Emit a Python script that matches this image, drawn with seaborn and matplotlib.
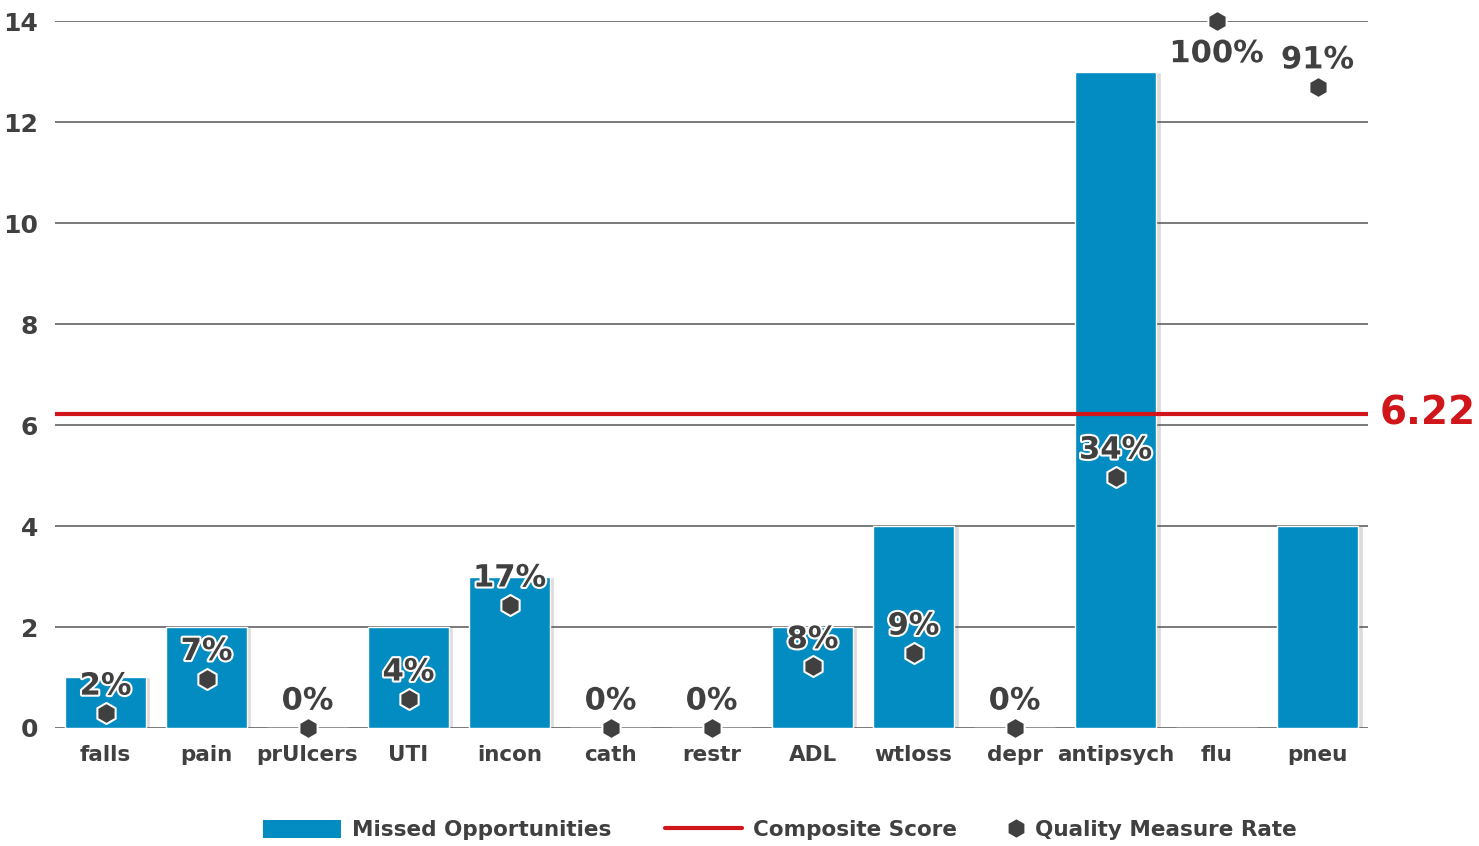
import numpy as np
import pandas as pd
import matplotlib
matplotlib.use('Agg')
import matplotlib.pyplot as plt
import matplotlib.patheffects as pe
from matplotlib.lines import Line2D
from matplotlib.patches import Patch
import seaborn as sns

# ── Data ──────────────────────────────────────────────────────────────────────
categories = ['falls', 'pain', 'prUlcers', 'UTI', 'incon', 'cath', 'restr',
              'ADL', 'wtloss', 'depr', 'antipsych', 'flu', 'pneu']
missed     = [1, 2, 0, 2, 3, 0, 0, 2, 4, 0, 13, 0, 4]
rate_pct   = [2.1, 7.0, 0, 4.1, 17.4, 0, 0, 8.7, 10.6, 0, 35.5, 100, 90.7]
rate_text  = ['2%', '7%', '0%', '4%', '17%', '0%', '0%', '8%', '9%', '0%',
              '34%', '100%', '91%']
composite  = 6.22

# ── Style ─────────────────────────────────────────────────────────────────────
BLUE  = '#038cc1'
RED   = '#d0161b'
DARK  = '#404040'
GRID  = '#555555'

sns.set_style('white')
plt.rcParams['font.family'] = ['Liberation Sans Narrow', 'DejaVu Sans Condensed', 'DejaVu Sans']
plt.rcParams['font.weight'] = 'bold'

df = pd.DataFrame({'category': categories, 'missed': missed,
                   'rate': rate_pct, 'label': rate_text})

fig = plt.figure(figsize=(14.79, 8.46), dpi=100)
ax = fig.add_axes([0.0372, 0.1395, 0.8878, 0.8355])

# bar shadow
x = np.arange(len(categories))
ax.bar(x + 0.045, df['missed'], width=0.8, color='#dcdcdc', zorder=1)
sns.barplot(data=df, x='category', y='missed', color=BLUE, width=0.8,
            saturation=1, ax=ax, zorder=2)

ax.set_ylim(0, 14)
ax.set_xlim(-0.5, len(categories) - 0.5)
ax.set_yticks(range(0, 15, 2))
for yv in range(0, 15, 2):
    ax.axhline(yv, color=GRID, lw=1.1, zorder=1.5)
for s in ax.spines.values():
    s.set_visible(False)
ax.set_xlabel('')
ax.set_ylabel('')
ax.tick_params(axis='both', length=0, colors=DARK)
ax.tick_params(axis='y', pad=12, labelsize=18)
ax.tick_params(axis='x', pad=12, labelsize=15.5)

# composite score line
ax.axhline(composite, color=RED, lw=3, zorder=3)
ax.text(1.009, composite, f'{composite:.2f}', transform=ax.get_yaxis_transform(),
        color=RED, fontsize=28, fontweight='bold', va='center', ha='left')

# quality measure rate on its own 0-100 scale
ax2 = ax.twinx()
ax2.set_ylim(0, 100)
ax2.set_yticks([])
for s in ax2.spines.values():
    s.set_visible(False)
ax2.scatter(x, df['rate'], marker='h', s=230, color=DARK, edgecolors='white',
            linewidths=1.5, zorder=5, clip_on=False)

outline = [pe.withStroke(linewidth=3, foreground='white')]
for xi, r, t in zip(x, df['rate'], df['label']):
    if r >= 99:
        ax2.annotate(t, (xi, r), xytext=(0, -13), textcoords='offset points',
                     ha='center', va='top', fontsize=22, color=DARK,
                     fontweight='bold', path_effects=outline)
    else:
        ax2.annotate(t, (xi, r), xytext=(0, 9), textcoords='offset points',
                     ha='center', va='bottom', fontsize=22, color=DARK,
                     fontweight='bold', path_effects=outline)

# ── Legend (two pieces so the marker entry gets a short handle) ───────────────
handles = [
    Patch(facecolor=BLUE, edgecolor='none', label='Missed Opportunities'),
    Line2D([0], [0], color=RED, lw=3, label='Composite Score'),
]
leg1 = fig.legend(handles=handles, loc='center left', bbox_to_anchor=(0.165, 0.019),
                  ncol=2, frameon=False, fontsize=15.5, handlelength=3.6,
                  handleheight=0.9, columnspacing=2.5, handletextpad=0.5)
leg2 = fig.legend(handles=[Line2D([0], [0], marker='h', color=DARK, lw=0,
                                  markersize=12, label='Quality Measure Rate')],
                  loc='center left', bbox_to_anchor=(0.668, 0.019),
                  frameon=False, fontsize=15.5, handlelength=0.8,
                  handletextpad=0.5)
for leg in (leg1, leg2):
    for t in leg.get_texts():
        t.set_color(DARK)

fig.savefig('out.png', dpi=100)
